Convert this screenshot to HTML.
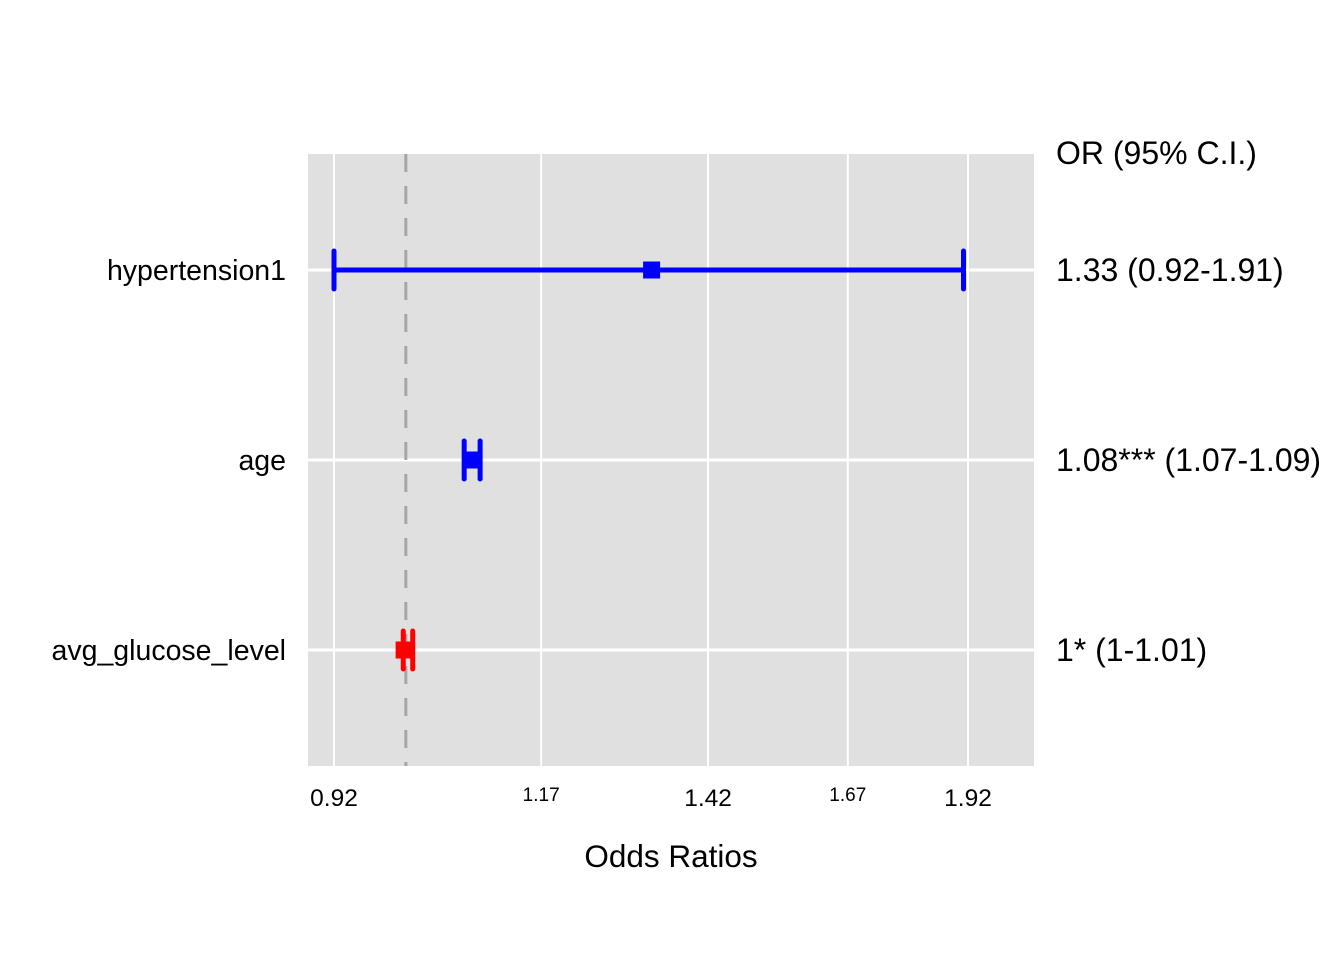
<!DOCTYPE html>
<html><head><meta charset="utf-8"><style>
body{margin:0;background:#fff;font-family:"Liberation Sans",Arial,sans-serif;}
</style></head><body>
<svg width="1344" height="960" xmlns="http://www.w3.org/2000/svg" font-family="Liberation Sans, Arial, sans-serif">
<rect x="308" y="154" width="726" height="612" fill="#e0e0e0"/>
<g id="grid"></g>
<g id="marks"></g>
<g id="labels"></g>
<text x="1056" y="164" font-size="32" fill="#000">OR (95% C.I.)</text>
<text x="671" y="867" font-size="31.5" text-anchor="middle" fill="#000">Odds Ratios</text>
</svg>
<script>
const terms=["hypertension1","age","avg_glucose_level"];
const estimates=[1.33,1.08,0.998];
const lowers=[0.92,1.07,0.997];
const uppers=[1.91,1.09,1.008];
const orLabels=["1.33 (0.92-1.91)","1.08*** (1.07-1.09)","1* (1-1.01)"];
const colors=["#0000ff","#0000ff","#ff0000"];
const ticks=[0.92,1.17,1.42,1.67,1.92];
const tickLabels=["0.92","1.17","1.42","1.67","1.92"];
const tickSizes=[24.5,19,24.5,19,24.5];
const NS="http://www.w3.org/2000/svg";
const x=v=>334+(Math.log(v)-Math.log(0.92))/(Math.log(1.92)-Math.log(0.92))*634;
const y=i=>270+i*190;
function mk(tag,attrs,parent){const e=document.createElementNS(NS,tag);for(const k in attrs)e.setAttribute(k,attrs[k]);document.getElementById(parent).appendChild(e);return e;}
ticks.forEach((t,i)=>{
 const g=mk('line',{x1:x(t),x2:x(t),y1:154,y2:766,stroke:'#fff','stroke-width':2},'grid');
 
 
 const l=mk('text',{x:x(t),y:i%2?801:806,'font-size':tickSizes[i],'text-anchor':'middle',fill:'#000'},'labels');
 l.textContent=tickLabels[i];
 
 
});
terms.forEach((t,i)=>{
 const g=mk('line',{x1:308,x2:1034,y1:y(i),y2:y(i),stroke:'#fff','stroke-width':3},'grid');
 
 
});
const ref=mk('line',{x1:x(1),x2:x(1),y1:154,y2:766,stroke:'#a6a6a6','stroke-width':3,'stroke-dasharray':'18,14'},'grid');


terms.forEach((t,i)=>{
 const c=colors[i],yy=y(i);
 const bar=mk('line',{x1:x(lowers[i]),x2:x(uppers[i]),y1:yy,y2:yy,stroke:c,'stroke-width':5},'marks');
 
 
 [lowers[i],uppers[i]].forEach(v=>{
  const cap=mk('line',{x1:x(v),x2:x(v),y1:yy-19,y2:yy+19,stroke:c,'stroke-width':5,'stroke-linecap':'round'},'marks');
  
  
 });
 const pt=mk('rect',{x:x(estimates[i])-8.5,y:yy-8.5,width:17,height:17,fill:c},'marks');
 
 
 const lab=mk('text',{x:286,y:yy+10,'font-size':28.5,'text-anchor':'end',fill:'#000'},'labels');
 lab.textContent=t;
 
 
 const or=mk('text',{x:1056,y:yy+11,'font-size':32,fill:'#000'},'labels');
 or.textContent=orLabels[i];
 
 
});
</script>
</body></html>
